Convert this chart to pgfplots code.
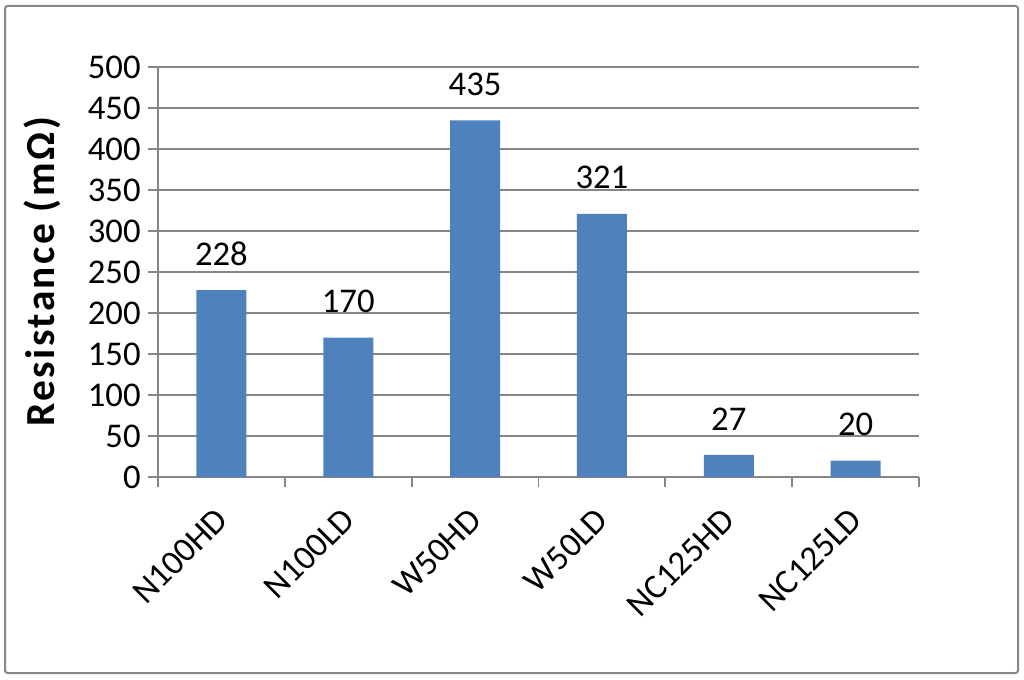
\documentclass[border=0pt]{standalone}
\usepackage{fontspec}
\setmainfont{Carlito}
\usepackage{pgfplots}
\pgfplotsset{compat=1.18}
\definecolor{barblue}{HTML}{4F81BD}
\definecolor{gridgray}{HTML}{868686}
\begin{document}
\begin{tikzpicture}
\path[use as bounding box] (0pt,0pt) rectangle (768pt,509.25pt);
\draw[gridgray, line width=1.5pt, rounded corners=2pt] (3.75pt,4.5pt) rectangle (763.5pt,504.75pt);
\begin{axis}[
  at={(118.5pt,151.5pt)}, anchor=south west,
  scale only axis, width=570.75pt, height=307.5pt,
  xmin=-0.5, xmax=5.5, ymin=0, ymax=500,
  ytick={0,50,...,500},
  ymajorgrids, grid style={gridgray, line width=1.4pt},
  axis x line*=bottom, axis y line*=left,
  axis line style={gridgray, line width=1.4pt},
  every tick/.style={gridgray, line width=1.4pt},
  tick align=outside, major tick length=7.5pt,
  xtick={-0.5,0.5,...,5.5}, xticklabels={},
  extra x ticks={0,1,2,3,4,5},
  extra x tick labels={N100HD,N100LD,W50HD,W50LD,NC125HD,NC125LD},
  extra x tick style={major tick length=0pt, grid=none,
    tick label style={rotate=45, anchor=east, yshift=-19.8pt, xshift=-16pt}},
  /pgf/number format/assume math mode=true,
  tick label style={font=\fontsize{26}{30}\selectfont, black},
  yticklabel style={xshift=-2pt},
  ylabel={\bfseries\addfontfeatures{LetterSpace=6}Resistance (mΩ)},
  ylabel style={font=\fontsize{31}{36}\selectfont, black,
    at={(axis description cs:-0.152,0.5)}, anchor=center},
  bar width=37.5pt,
  nodes near coords,
  nodes near coords style={font=\fontsize{26}{30}\selectfont, black, yshift=15pt},
  clip=false,
]
\addplot[ybar, fill=barblue, draw=none] coordinates {
  (0,228) (1,170) (2,435) (3,321) (4,27) (5,20)
};
\end{axis}
\end{tikzpicture}
\end{document}
